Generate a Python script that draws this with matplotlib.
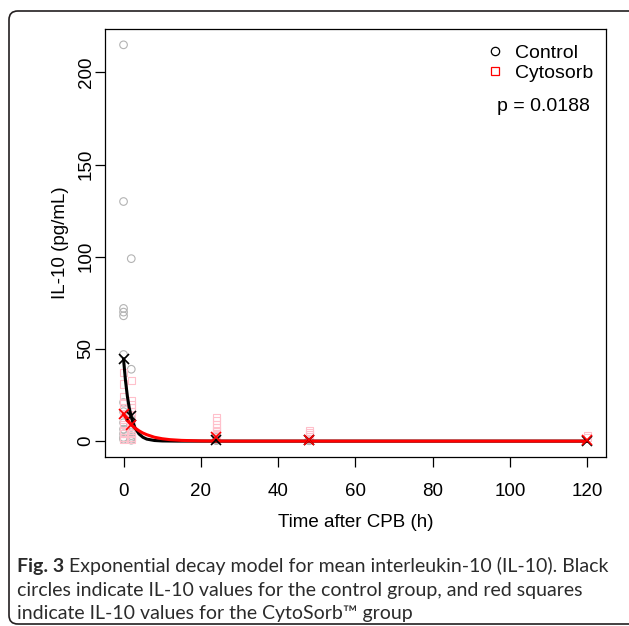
import matplotlib.pyplot as plt
from matplotlib.lines import Line2D
from matplotlib.patches import FancyBboxPatch

# raw IL-10 values (pg/mL) by time after CPB (h)
ctrl_t = [0] * 13 + [2] * 9 + [24] * 6 + [48] * 4
ctrl_y = [215, 130, 72, 70, 68, 47, 21, 16, 10, 6.5, 4, 2, 1,
          99, 39, 12, 8, 5, 3, 2, 1, 0.5,
          3, 2, 1.5, 1, 0.5, 0.3,
          1, 0.5, 0.3, 0.2]
cyto_t = [0] * 12 + [2] * 11 + [24] * 8 + [48] * 4 + [120] * 2
cyto_y = [37, 31, 24, 21, 18, 15, 12, 9, 6, 4, 2, 1,
          33, 22, 20, 18, 16, 14, 10, 7, 4, 2, 1,
          13, 11, 9, 7.5, 6, 5, 4, 3,
          5.5, 4.5, 3.5, 2.5,
          3, 2]

# group means
mean_t = [0, 2, 24, 48, 120]
ctrl_mean = [44.5, 13.5, 0.5, 0.5, 0.3]
cyto_mean = [14.6, 9.0, 2.5, 0.8, 0.4]

# fitted decay curves
ctrl_fit_t = [0, 0.5, 1, 1.5, 2, 2.5, 3, 4, 5, 6, 8, 10, 14, 20, 120]
ctrl_fit_y = [44.5, 32.9, 24.2, 17.8, 13.1, 9.7, 7.1, 3.9, 2.1, 1.1, 0.34, 0.1, 0.01, 0, 0]
cyto_fit_t = [0, 1, 2, 3, 4, 5, 6, 8, 10, 12, 15, 20, 25, 30, 120]
cyto_fit_y = [14.6, 11.5, 9.0, 7.1, 5.6, 4.4, 3.5, 2.1, 1.3, 0.8, 0.4, 0.12, 0.04, 0.01, 0]

caption_bold = "Fig. 3"
caption_1 = " Exponential decay model for mean interleukin-10 (IL-10). Black"
caption_2 = "circles indicate IL-10 values for the control group, and red squares"
caption_3 = "indicate IL-10 values for the CytoSorb\u2122 group"


def main():
    plt.rcParams["font.family"] = ["Liberation Sans", "DejaVu Sans"]
    fig = plt.figure(figsize=(6.29, 6.26), dpi=100)
    ax = fig.add_axes([0.1669, 0.27, 0.7965, 0.6837])

    ax.scatter(ctrl_t, ctrl_y, s=30, facecolors="none", edgecolors="#b3b3b3",
               linewidths=0.8, zorder=2)
    ax.scatter(cyto_t, cyto_y, s=26, marker="s", facecolors="none",
               edgecolors="#ffc0cb", linewidths=0.8, zorder=2)

    ax.plot(ctrl_fit_t, ctrl_fit_y, color="black", lw=2.2, zorder=3)
    ax.plot(cyto_fit_t, cyto_fit_y, color="red", lw=2.2, zorder=4)
    ax.plot(mean_t, ctrl_mean, "x", color="black", ms=7, mew=1.2, zorder=5)
    ax.plot(mean_t, cyto_mean, "x", color="red", ms=7, mew=1.2, zorder=6)

    ax.set_xlim(-4.8, 124.8)
    ax.set_ylim(-8.6, 223.6)
    ax.set_xticks(range(0, 121, 20))
    ax.set_yticks(range(0, 201, 50))
    ax.tick_params(labelsize=13.5, length=7.5, width=0.9)
    ax.tick_params(axis="x", pad=11)
    ax.tick_params(axis="y", pad=0)
    for lab in ax.get_yticklabels():
        lab.set_rotation(90)
        lab.set_va("center")
    for s in ax.spines.values():
        s.set_linewidth(0.9)
    ax.set_xlabel("Time after CPB (h)", fontsize=13.5, labelpad=10.5)
    ax.set_ylabel("IL-10 (pg/mL)", fontsize=13.5, labelpad=6)

    handles = [
        Line2D([], [], ls="none", marker="o", mfc="none", mec="black", ms=6, mew=0.9),
        Line2D([], [], ls="none", marker="s", mfc="none", mec="red", ms=5.5, mew=0.9),
    ]
    ax.legend(handles, ["Control", "Cytosorb"], loc="upper right", frameon=False,
              fontsize=14, handlelength=0.8, handletextpad=0.6,
              labelspacing=0.15, borderaxespad=0, bbox_to_anchor=(0.99, 0.983))
    ax.text(0.968, 0.82, "p = 0.0188", transform=ax.transAxes, ha="right",
            va="center", fontsize=14)

    # caption
    cfont = ["Lato", "DejaVu Sans"]
    ccol = "#2b2b2b"
    t1 = fig.text(17 / 629, 1 - 572 / 626, caption_bold, fontsize=14,
                  fontweight="bold", family=cfont, color=ccol, va="baseline")
    ax.annotate(caption_1, xy=(1, 0), xycoords=t1, va="bottom", fontsize=14,
                family=cfont, color=ccol, annotation_clip=False)
    fig.text(17 / 629, 1 - 596 / 626, caption_2, fontsize=14, family=cfont,
             color=ccol, va="baseline")
    fig.text(17 / 629, 1 - 619 / 626, caption_3, fontsize=14, family=cfont,
             color=ccol, va="baseline")

    box = FancyBboxPatch((9 / 629, 2 / 626), 640 / 629, 613 / 626,
                         boxstyle="round,pad=0,rounding_size=0.014",
                         transform=fig.transFigure, fill=False,
                         edgecolor="#231f20", lw=1.2, clip_on=False)
    fig.patches.append(box)

    fig.savefig("out.png", dpi=100)


if __name__ == "__main__":
    main()
